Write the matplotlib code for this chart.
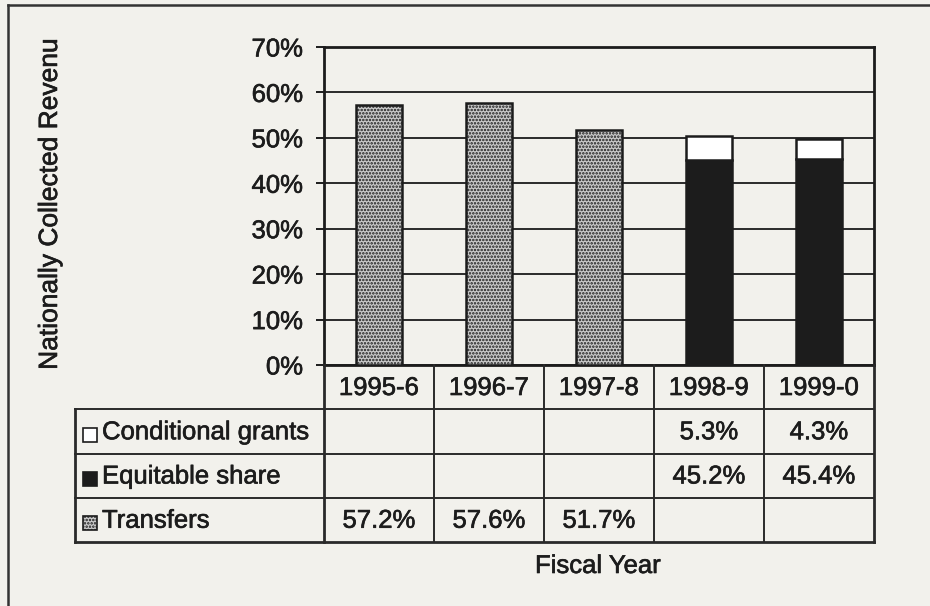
import matplotlib
matplotlib.use("Agg")
import matplotlib.pyplot as plt
from matplotlib.patches import Rectangle
from matplotlib.lines import Line2D
import matplotlib.patheffects as pe
import numpy as np

# Data
years = ["1995-6", "1996-7", "1997-8", "1998-9", "1999-0"]
transfers = [57.2, 57.6, 51.7, None, None]
equitable = [None, None, None, 45.2, 45.4]
conditional = [None, None, None, 5.3, 4.3]
series_names = ["Conditional grants", "Equitable share", "Transfers"]
yticks = [0, 10, 20, 30, 40, 50, 60, 70]

W, H = 930, 606
BG = "#f2f1ec"
INK = "#1c1c1c"
FONT = "Liberation Sans"
FS = 18.5

plt.rcParams["font.family"] = [FONT, "DejaVu Sans"]
plt.rcParams["hatch.linewidth"] = 1.2
plt.rcParams["hatch.color"] = "#262626"

fig = plt.figure(figsize=(W / 100, H / 100), dpi=100, facecolor=BG)
bold = [pe.withStroke(linewidth=0.45, foreground=INK)]


def fx(px):
    return px / W


def fy(py):
    return 1 - py / H


# pixel layout
PL, PR, PT, PB = 324, 874, 47, 365
TL, TB = 75, 542

ax = fig.add_axes([fx(PL), fy(PB), fx(PR - PL), (PB - PT) / H])
ax.set_facecolor(BG)
x = np.arange(len(years))
bw = 0.42


def vals(s):
    return np.array([np.nan if v is None else v for v in s], dtype=float)


t = vals(transfers)
e = vals(equitable)
c = vals(conditional)

TRANS_FACE = "#cacaca"
ax.bar(x, t, width=bw, facecolor=TRANS_FACE, edgecolor=INK,
       linewidth=1.8, hatch=".....", zorder=3)
ax.bar(x, e, width=bw, facecolor=INK, edgecolor=INK,
       linewidth=1.8, zorder=3)
ax.bar(x, c, width=bw, bottom=np.nan_to_num(e), facecolor="white",
       edgecolor=INK, linewidth=1.8, zorder=3)

ax.set_xlim(-0.5, len(years) - 0.5)
ax.set_ylim(0, 70)
ax.set_yticks(yticks)
ax.set_yticklabels([f"{v}%" for v in yticks], fontsize=FS, color=INK)
for lab in ax.get_yticklabels():
    lab.set_path_effects(bold)
ax.set_xticks([])
ax.yaxis.grid(True, color="#2a2a2a", linewidth=1.4, zorder=1)
ax.set_axisbelow(True)
ax.tick_params(axis="y", length=6, width=1.4, pad=9, color=INK)
for sp in ax.spines.values():
    sp.set_color(INK)
    sp.set_linewidth(2.0)

# Data table underneath
tax = fig.add_axes([fx(TL), fy(TB), fx(PR - TL), (TB - PB) / H])
tax.set_facecolor("none")
tax.axis("off")
cat_w = (PR - PL) / len(years)
x0 = -0.5 - (PL - TL) / cat_w
tax.set_xlim(x0, len(years) - 0.5)
tax.set_ylim(4, 0)

lc = "#2a2a2a"
lw = 1.4
for b in np.arange(-0.5, len(years) + 0.5, 1.0):
    edge = not (-0.5 < b < len(years) - 0.5)
    tax.add_line(Line2D([b, b], [0, 4], color=lc, lw=2.0 if edge else lw,
                        clip_on=False))
tax.add_line(Line2D([x0, x0], [1, 4], color=lc, lw=2.0, clip_on=False))
for r in [1, 2, 3, 4]:
    tax.add_line(Line2D([x0, len(years) - 0.5], [r, r], color=lc,
                        lw=2.0 if r == 4 else lw, clip_on=False))

for i, yr in enumerate(years):
    tax.text(i, 0.52, yr, ha="center", va="center", fontsize=FS, color=INK,
             path_effects=bold)

rows = [conditional, equitable, transfers]
for r, series in enumerate(rows):
    for i, v in enumerate(series):
        if v is not None:
            tax.text(i, r + 1.52, f"{v:.1f}%", ha="center", va="center",
                     fontsize=FS, color=INK, path_effects=bold)

# legend keys in the first column
key_w = 14 / cat_w
key_h = 0.32
styles = [dict(facecolor="white", edgecolor=INK),
          dict(facecolor=INK, edgecolor=INK),
          dict(facecolor=TRANS_FACE, edgecolor=INK, hatch=".....")]
for r, (name, st) in enumerate(zip(series_names, styles)):
    kx = x0 + 8 / cat_w
    tax.add_patch(Rectangle((kx, r + 1.58 - key_h / 2), key_w, key_h,
                            linewidth=1.2, clip_on=False, **st))
    tax.text(kx + key_w + 5 / cat_w, r + 1.52, name, ha="left", va="center",
             fontsize=FS, color=INK, path_effects=bold)

fig.text(fx(598), fy(566), "Fiscal Year", ha="center", va="center",
         fontsize=FS, color=INK, path_effects=bold)
fig.text(fx(50), fy(204), "Nationally Collected Revenu", ha="center",
         va="center", rotation=90, fontsize=19, color=INK, path_effects=bold)

# outer frame
fig.add_artist(Line2D([fx(8), fx(8)], [fy(5), 0], color="#333333", lw=1.8,
                      transform=fig.transFigure))
fig.add_artist(Line2D([fx(8), 1], [fy(5), fy(5)], color="#333333", lw=1.8,
                      transform=fig.transFigure))

fig.savefig("out.png", dpi=100, facecolor=BG)
